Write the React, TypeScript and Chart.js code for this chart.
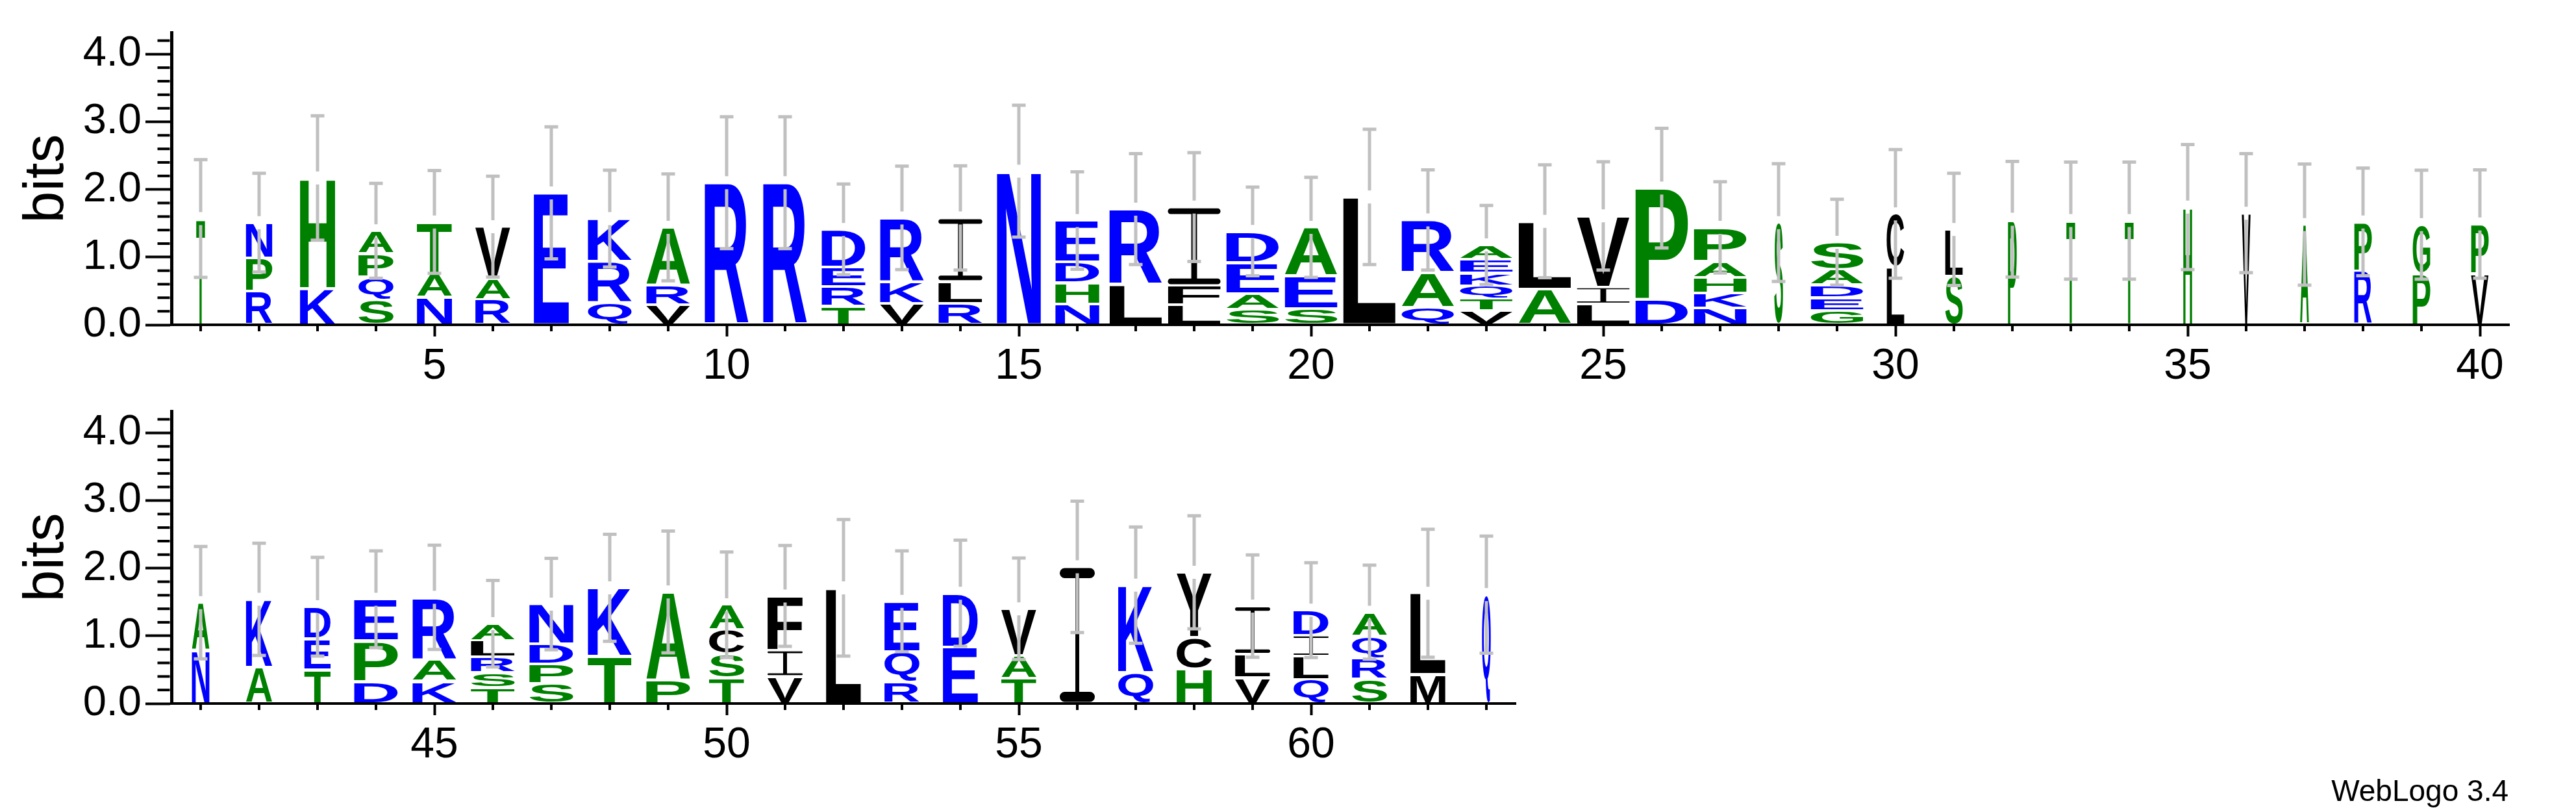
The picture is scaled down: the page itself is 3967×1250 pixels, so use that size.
import React, { useEffect, useRef } from 'react';
import { Chart, registerables } from 'chart.js';

Chart.register(...registerables);

// ---------------- data ----------------
const POSITIONS: number[] = [
  1, 2, 3, 4, 5, 6, 7, 8, 9, 10, 11, 12, 13, 14, 15, 16, 17, 18, 19, 20,
  21, 22, 23, 24, 25, 26, 27, 28, 29, 30, 31, 32, 33, 34, 35, 36, 37, 38, 39, 40,
  41, 42, 43, 44, 45, 46, 47, 48, 49, 50, 51, 52, 53, 54, 55, 56, 57, 58, 59, 60,
  61, 62, 63,
];

// letters of each stack, from bottom to top
const LETTERS: string[] = [
  'T', 'RPN', 'KH', 'SQPA', 'NAT', 'RAV', 'E', 'QRK', 'VRA', 'R',
  'R', 'TRED', 'VKR', 'RLI', 'N', 'NHDE', 'LR', 'LFI', 'SAED', 'SEA',
  'L', 'QAR', 'VTQKEA', 'AL', 'LIV', 'DP', 'NKHAP', 'S', 'GEDAS', 'LC',
  'SL', 'P', 'T', 'T', 'H', 'V', 'A', 'RP', 'PG', 'VP',
  'NA', 'AK', 'TED', 'DPE', 'KAR', 'TSRLA', 'SPDN', 'TK', 'PA', 'TSCA',
  'VIF', 'L', 'RQE', 'ED', 'TAV', 'I', 'QK', 'HCY', 'VLI', 'QLID',
  'SRQA', 'ML', 'Q',
];

// letter heights in bits, bottom to top
const HEIGHTS: number[][] = [
  [1.57], [0.5, 0.49, 0.52], [0.54, 1.63], [0.37, 0.34, 0.34, 0.34], [0.41, 0.35, 0.76],
  [0.37, 0.31, 0.77], [1.95], [0.33, 0.61, 0.63], [0.3, 0.28, 0.86], [2.1],
  [2.1], [0.28, 0.29, 0.28, 0.56], [0.32, 0.32, 0.94], [0.32, 0.32, 0.94], [2.27],
  [0.31, 0.31, 0.31, 0.61], [0.6, 1.11], [0.3, 0.28, 1.16], [0.23, 0.23, 0.46, 0.46], [0.24, 0.48, 0.72],
  [1.89], [0.26, 0.51, 0.78], [0.21, 0.18, 0.19, 0.19, 0.2, 0.21], [0.53, 1.0], [0.31, 0.25, 1.05],
  [0.37, 1.65], [0.25, 0.22, 0.23, 0.24, 0.5], [1.51], [0.21, 0.19, 0.19, 0.23, 0.4], [0.85, 0.79],
  [0.72, 0.69], [1.56], [1.54], [1.54], [1.74],
  [1.65], [1.48], [0.8, 0.72], [0.76, 0.72], [0.76, 0.73],
  [0.78, 0.71], [0.54, 1.0], [0.5, 0.46, 0.47], [0.33, 0.6, 0.61], [0.33, 0.32, 0.92],
  [0.24, 0.22, 0.23, 0.24, 0.25], [0.3, 0.29, 0.29, 0.59], [0.7, 1.01], [0.35, 1.3], [0.38, 0.35, 0.36, 0.37],
  [0.4, 0.39, 0.8], [1.71], [0.32, 0.45, 0.74], [0.84, 0.79], [0.37, 0.34, 0.69],
  [2.02], [0.46, 1.29], [0.51, 0.47, 0.96], [0.38, 0.35, 0.71], [0.36, 0.34, 0.31, 0.37],
  [0.36, 0.31, 0.33, 0.35], [0.43, 1.2], [1.61],
];

// error bar half-widths (bits)
const ERRORS: number[] = [
  0.87, 0.73, 0.92, 0.7, 0.76, 0.745, 0.975, 0.715, 0.79, 0.975,
  0.975, 0.67, 0.765, 0.77, 0.975, 0.72, 0.82, 0.805, 0.655, 0.74,
  1.0, 0.74, 0.585, 0.835, 0.8, 0.885, 0.675, 0.87, 0.635, 0.95,
  0.83, 0.855, 0.865, 0.865, 0.925, 0.88, 0.895, 0.795, 0.805, 0.8,
  0.83, 0.83, 0.73, 0.715, 0.77, 0.64, 0.675, 0.79, 0.9, 0.78,
  0.745, 1.01, 0.745, 0.785, 0.75, 0.97, 0.86, 0.835, 0.755, 0.7,
  0.695, 0.945, 0.865,
];

// number of (non-gap) sequences at each position -> stack width
const OCCUPANCY: number[] = [
  1, 3, 4, 4, 4, 4, 4, 5, 5, 5,
  5, 5, 5, 5, 5, 5, 6, 6, 6, 6,
  6, 6, 6, 6, 6, 6, 6, 1, 6, 2,
  2, 1, 1, 1, 1, 1, 1, 2, 2, 2,
  2, 3, 3, 5, 5, 5, 5, 5, 5, 4,
  4, 4, 4, 4, 4, 4, 4, 4, 4, 4,
  4, 4, 1,
];
const N_SEQUENCES = 6;
const TOP_PANEL_COUNT = 40;
const Y_MAX = 4.32;
const Y_TITLE = 'bits';
const CREDIT = 'WebLogo 3.4';

// ---------------- styling helpers ----------------
const FONT = '"Liberation Sans", Arial, Helvetica, sans-serif';
const BLUE = '#0000FF';
const GREEN = '#008000';
const BLACK = '#000000';
const ERR_GREY = '#C0C0C0';
const AXIS_LEFT = 264;
const STEP = 90;

function letterColor(ch: string): string {
  if ('RKDENQ'.includes(ch)) return BLUE;
  if ('SGHTAP'.includes(ch)) return GREEN;
  return BLACK;
}

const isWhole = (v: number) => Math.abs(v - Math.round(v)) < 1e-6;

const GLYPH_SIZE = 200;
const metricsCache: Record<string, { l: number; r: number; a: number; d: number }> = {};

function glyphMetrics(ctx: CanvasRenderingContext2D, ch: string) {
  if (!metricsCache[ch]) {
    ctx.save();
    ctx.font = `bold ${GLYPH_SIZE}px ${FONT}`;
    const m = ctx.measureText(ch);
    metricsCache[ch] = {
      l: m.actualBoundingBoxLeft,
      r: m.actualBoundingBoxRight,
      a: m.actualBoundingBoxAscent,
      d: m.actualBoundingBoxDescent,
    };
    ctx.restore();
  }
  return metricsCache[ch];
}

function pill(ctx: CanvasRenderingContext2D, x: number, y: number, w: number, h: number) {
  const r = Math.min(h / 2, w / 2);
  ctx.beginPath();
  ctx.moveTo(x + r, y);
  ctx.lineTo(x + w - r, y);
  ctx.arc(x + w - r, y + r, r, -Math.PI / 2, Math.PI / 2);
  ctx.lineTo(x + r, y + h);
  ctx.arc(x + r, y + r, r, Math.PI / 2, (3 * Math.PI) / 2);
  ctx.closePath();
  ctx.fill();
}

function drawGlyph(
  ctx: CanvasRenderingContext2D,
  ch: string,
  x: number,
  y: number,
  w: number,
  h: number,
  color: string
) {
  if (w < 0.5 || h < 0.5) return;
  ctx.save();
  ctx.fillStyle = color;
  if (ch === 'I') {
    const bar = Math.max(1.5, h * 0.075);
    const stem = Math.max(1.5, w * 0.11);
    pill(ctx, x, y, w, bar);
    pill(ctx, x, y + h - bar, w, bar);
    ctx.fillRect(x + (w - stem) / 2, y + bar * 0.5, stem, h - bar);
  } else {
    const m = glyphMetrics(ctx, ch);
    ctx.translate(x, y);
    ctx.scale(w / (m.l + m.r), h / (m.a + m.d));
    ctx.font = `bold ${GLYPH_SIZE}px ${FONT}`;
    ctx.textAlign = 'left';
    ctx.textBaseline = 'alphabetic';
    ctx.fillText(ch, m.l, m.a);
  }
  ctx.restore();
}

// ---------------- chart builder ----------------
function buildChart(
  canvas: HTMLCanvasElement,
  from: number,
  to: number,
  canvasHeight: number,
  showCredit: boolean
) {
  const labels = POSITIONS.slice(from, to).map(String);
  const rightPad = 3967 - (AXIS_LEFT + (to - from) * STEP);
  const maxLevels = Math.max(...HEIGHTS.map((h) => h.length));
  const datasets = [];
  for (let k = 0; k < maxLevels; k++) {
    datasets.push({
      label: 'level ' + (k + 1),
      data: HEIGHTS.slice(from, to).map((h) => h[k] ?? 0),
      backgroundColor: 'rgba(0,0,0,0)',
      borderWidth: 0,
      categoryPercentage: 0.9,
      barPercentage: 1.0,
    });
  }

  const logoPlugin = {
    id: 'seqLogo',
    afterDatasetsDraw(chart: any) {
      const ctx: CanvasRenderingContext2D = chart.ctx;
      const xs = chart.scales.x;
      const ys = chart.scales.y;
      // letters
      for (let k = 0; k < maxLevels; k++) {
        const meta = chart.getDatasetMeta(k);
        meta.data.forEach((bar: any, j: number) => {
          const i = from + j;
          const hv = HEIGHTS[i][k];
          if (!hv) return;
          const p = bar.getProps(['x', 'y', 'base', 'width'], true);
          const w = (p.width * OCCUPANCY[i]) / N_SEQUENCES;
          const top = Math.min(p.y, p.base);
          const bottom = Math.max(p.y, p.base);
          const gap = Math.min(2, (bottom - top) * 0.15);
          drawGlyph(ctx, LETTERS[i][k], p.x - w / 2, top + gap, w, bottom - top - 2 * gap, letterColor(LETTERS[i][k]));
        });
      }
      // error bars
      ctx.save();
      ctx.strokeStyle = ERR_GREY;
      ctx.lineWidth = 5;
      ctx.lineCap = 'butt';
      for (let j = 0; j < to - from; j++) {
        const i = from + j;
        const total = HEIGHTS[i].reduce((a, b) => a + b, 0);
        const x = xs.getPixelForValue(j);
        const yHi = ys.getPixelForValue(total + ERRORS[i]);
        const yLo = ys.getPixelForValue(total - ERRORS[i]);
        const yMid = ys.getPixelForValue(total);
        const half = 10;
        ctx.beginPath();
        ctx.moveTo(x, yHi);
        ctx.lineTo(x, yMid - half);
        ctx.moveTo(x, yMid + half);
        ctx.lineTo(x, yLo);
        ctx.moveTo(x - 10.5, yHi);
        ctx.lineTo(x + 10.5, yHi);
        ctx.moveTo(x - 10.5, yLo);
        ctx.lineTo(x + 10.5, yLo);
        ctx.stroke();
      }
      ctx.restore();
    },
    afterDraw(chart: any) {
      const ctx: CanvasRenderingContext2D = chart.ctx;
      const xs = chart.scales.x;
      const ys = chart.scales.y;
      const ca = chart.chartArea;
      ctx.save();
      ctx.strokeStyle = BLACK;
      ctx.lineWidth = 4;
      // minor y ticks
      ys.ticks.forEach((t: any) => {
        if (isWhole(t.value)) return;
        const y = ys.getPixelForValue(t.value);
        ctx.beginPath();
        ctx.moveTo(ca.left - 2.5, y);
        ctx.lineTo(ca.left - 21.5, y);
        ctx.stroke();
      });
      // minor x ticks
      for (let j = 0; j < to - from; j++) {
        if (POSITIONS[from + j] % 5 === 0) continue;
        const x = xs.getPixelForValue(j);
        ctx.beginPath();
        ctx.moveTo(x, ca.bottom + 2);
        ctx.lineTo(x, ca.bottom + 10);
        ctx.stroke();
      }
      if (showCredit) {
        ctx.fillStyle = BLACK;
        ctx.font = `46px ${FONT}`;
        ctx.textAlign = 'right';
        ctx.textBaseline = 'alphabetic';
        ctx.fillText(CREDIT, 3863, 650);
      }
      ctx.restore();
    },
  };

  return new Chart(canvas, {
    type: 'bar',
    data: { labels, datasets },
    options: {
      animation: false,
      responsive: false,
      maintainAspectRatio: false,
      devicePixelRatio: 1,
      events: [],
      layout: { padding: { left: 0, top: 50, right: rightPad, bottom: 0 } },
      plugins: {
        legend: { display: false },
        tooltip: { enabled: false },
        title: { display: false },
      },
      scales: {
        x: {
          type: 'category',
          stacked: true,
          offset: true,
          grid: {
            display: true,
            drawOnChartArea: false,
            offset: false,
            drawTicks: true,
            tickLength: 18,
            tickWidth: 4,
            tickColor: (c: any) =>
              POSITIONS[from + c.index] % 5 === 0 ? BLACK : 'rgba(0,0,0,0)',
          },
          border: { display: true, color: BLACK, width: 4 },
          ticks: {
            autoSkip: false,
            maxRotation: 0,
            minRotation: 0,
            padding: 7,
            color: BLACK,
            font: { family: FONT, size: 66 },
            callback: (_v: any, idx: number) => {
              const p = POSITIONS[from + idx];
              return p % 5 === 0 ? String(p) : '';
            },
          },
          afterFit: (s: any) => {
            s.height = canvasHeight - 500;
          },
        },
        y: {
          type: 'linear',
          stacked: true,
          min: 0,
          max: Y_MAX,
          grid: {
            display: true,
            drawOnChartArea: false,
            drawTicks: true,
            tickLength: 40,
            tickWidth: 4,
            tickColor: (c: any) =>
              c.tick && isWhole(c.tick.value) ? BLACK : 'rgba(0,0,0,0)',
          },
          border: { display: true, color: BLACK, width: 5 },
          ticks: {
            stepSize: 0.2,
            includeBounds: false,
            autoSkip: false,
            padding: 6,
            color: BLACK,
            font: { family: FONT, size: 65 },
            callback: (v: any) => {
              const n = Number(v);
              return isWhole(n) ? Math.round(n).toFixed(1) : '';
            },
          },
          title: {
            display: true,
            text: Y_TITLE,
            color: BLACK,
            font: { family: FONT, size: 88 },
            padding: { top: 20, bottom: 0 },
          },
          afterFit: (s: any) => {
            s.width = AXIS_LEFT;
          },
        },
      },
    } as any,
    plugins: [logoPlugin],
  });
}

export default function App() {
  const topRef = useRef<HTMLCanvasElement | null>(null);
  const bottomRef = useRef<HTMLCanvasElement | null>(null);

  useEffect(() => {
    if (!topRef.current || !bottomRef.current) return;
    const top = buildChart(topRef.current, 0, TOP_PANEL_COUNT, 625, false);
    const bottom = buildChart(bottomRef.current, TOP_PANEL_COUNT, POSITIONS.length, 667, true);
    return () => {
      top.destroy();
      bottom.destroy();
    };
  }, []);

  return (
    <div
      style={{
        position: 'fixed',
        left: 0,
        top: 0,
        width: 3967,
        height: 1250,
        background: '#ffffff',
        overflow: 'hidden',
      }}
    >
      <canvas
        ref={topRef}
        width={3967}
        height={625}
        style={{ position: 'absolute', left: 0, top: 0, width: 3967, height: 625 }}
      />
      <canvas
        ref={bottomRef}
        width={3967}
        height={667}
        style={{ position: 'absolute', left: 0, top: 583, width: 3967, height: 667 }}
      />
    </div>
  );
}
